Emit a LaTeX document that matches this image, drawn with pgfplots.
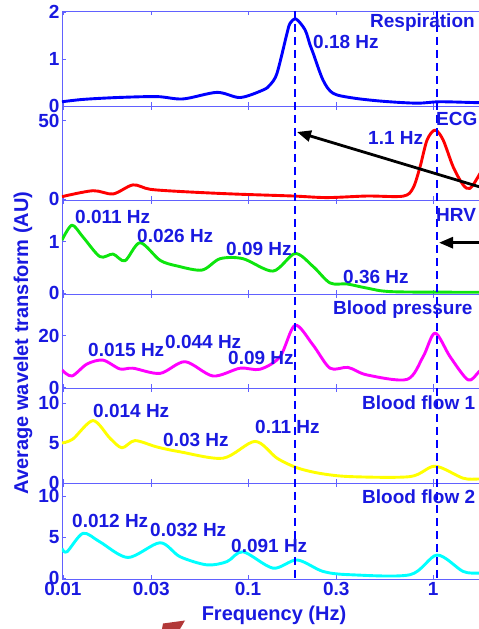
\documentclass[border=0pt]{standalone}
\usepackage{fontspec}
\setmainfont{Liberation Sans}
\usepackage{pgfplots}
\pgfplotsset{compat=1.18}
\usetikzlibrary{arrows.meta}
\definecolor{axcol}{rgb}{0.38,0.38,1}
\definecolor{txtcol}{rgb}{0.1,0.1,0.88}
\definecolor{resp}{rgb}{0,0,1}
\definecolor{ecg}{rgb}{1,0,0}
\definecolor{hrvg}{rgb}{0.05,0.9,0.05}
\definecolor{bpm}{rgb}{1,0,1}
\definecolor{bfy}{rgb}{1,1,0}
\definecolor{bfc}{rgb}{0,1,1}
\definecolor{redmark}{rgb}{0.7,0.22,0.22}
\newcommand{\lab}{\bfseries\fontsize{19}{19}\selectfont}
\pgfplotsset{/pgf/number format/assume math mode=true}
\pgfplotsset{
  mypanel/.style={
    scale only axis, width=428pt,
    axis line style={color=axcol, line width=0.9pt},
    tick style={color=axcol, line width=0.9pt},
    major tick length=4pt, tick align=inside,
    xtick={0.01,0.03,0.1,0.3,1}, xticklabels={},
    ytick pos=left,
    yticklabel style={text=txtcol, font=\lab, xshift=1pt},
    xticklabel style={text=txtcol, font=\lab},
  },
  mycurve/.style={line width=2.9pt, smooth, line join=round},
}
\begin{document}
\begin{tikzpicture}
\useasboundingbox (0pt,0pt) rectangle (479pt,629pt);
\clip (0pt,0pt) rectangle (479pt,629pt);
% Respiration
\begin{axis}[xmode=log, xmin=0.00988, xmax=2.03, mypanel, anchor=south west, at={(62pt,523pt)}, height=95pt, ymin=0, ymax=2.021, ytick={0,1,2}]
\addplot[mycurve, color=resp] coordinates {(0.00988,0.09)(0.01283,0.14)(0.01958,0.18)(0.03223,0.20)(0.04453,0.15)(0.068,0.29)(0.09054,0.18)(0.1205,0.34)(0.1315,0.45)(0.1435,0.70)(0.1625,1.55)(0.1687,1.76)(0.1818,1.85)(0.2033,1.62)(0.2163,1.30)(0.2246,1.13)(0.2543,0.55)(0.2881,0.27)(0.3695,0.17)(0.5367,0.10)(0.8193,0.06)(1.091,0.09)(1.773,0.07)(2.03,0.07)};
\end{axis}
% ECG
\begin{axis}[xmode=log, xmin=0.00988, xmax=2.03, mypanel, anchor=south west, at={(62pt,429pt)}, height=94pt, ymin=-0.64, ymax=59.39, ytick={0,50}]
\addplot[mycurve, color=ecg] coordinates {(0.00988,1.5)(0.01453,5.3)(0.01864,3.2)(0.02389,9.0)(0.02953,6.2)(0.04453,4.7)(0.08298,3.2)(0.1751,1.9)(0.2673,0.9)(0.4398,1.9)(0.6883,1.8)(0.7795,7)(0.8506,20.6)(0.928,37.7)(1.025,44)(1.133,37.7)(1.283,20.6)(1.453,9)(1.585,6.8)(1.773,15.3)(2.03,28)};
\end{axis}
% HRV
\begin{axis}[xmode=log, xmin=0.00988, xmax=2.03, mypanel, anchor=south west, at={(62pt,335pt)}, height=94pt, ymin=-0.014, ymax=1.808, ytick={0,1}]
\addplot[mycurve, color=hrvg] coordinates {(0.00988,1.03)(0.01118,1.32)(0.01283,1.09)(0.01585,0.71)(0.01864,0.76)(0.02163,0.63)(0.02608,0.98)(0.03345,0.64)(0.04132,0.53)(0.05642,0.45)(0.0706,0.67)(0.09397,0.67)(0.1365,0.43)(0.1795,0.77)(0.2246,0.52)(0.2775,0.20)(0.3428,0.18)(0.4398,0.10)(0.6078,0.03)(1.773,0.02)(2.03,0.02)};
\end{axis}
% Blood pressure
\begin{axis}[xmode=log, xmin=0.00988, xmax=2.03, mypanel, anchor=south west, at={(62pt,241pt)}, height=94pt, ymin=-0.115, ymax=36.04, ytick={0,20}]
\addplot[mycurve, color=bpm] coordinates {(0.00988,6.8)(0.01118,4.5)(0.01348,9.1)(0.01645,10.6)(0.02033,7.2)(0.02389,7.5)(0.03345,5.5)(0.04565,10.0)(0.0647,4.5)(0.09054,7.5)(0.1161,7.1)(0.1489,11.9)(0.1795,24)(0.2246,16.4)(0.2775,7.5)(0.3471,7.8)(0.4398,4.9)(0.7235,3.2)(0.883,11.9)(1.025,21)(1.236,11.9)(1.546,3.0)(1.773,6.2)(2.03,10)};
\end{axis}
% Blood flow 1
\begin{axis}[xmode=log, xmin=0.00988, xmax=2.03, mypanel, anchor=south west, at={(62pt,146pt)}, height=95pt, ymin=0, ymax=11.875, ytick={0,5,10}]
\addplot[mycurve, color=bfy] coordinates {(0.00988,5.0)(0.01132,5.5)(0.01453,7.8)(0.01795,5.6)(0.02084,4.4)(0.0245,5.3)(0.03223,4.5)(0.04289,3.9)(0.07329,3.1)(0.1091,5.2)(0.1435,3.1)(0.1841,1.9)(0.245,1.2)(0.3559,0.8)(0.7509,0.8)(1.025,2.1)(1.453,0.6)(1.773,0.5)(2.03,0.5)};
\end{axis}
% Blood flow 2
\begin{axis}[xmode=log, xmin=0.00988, xmax=2.03, mypanel, anchor=south west, at={(62pt,50pt)}, height=96pt, ymin=-0.122, ymax=11.59, ytick={0,5,10},
  xticklabels={0.01,0.03,0.1,0.3,1}]
\addplot[mycurve, color=bfc] coordinates {(0.00988,3.6)(0.01051,3.2)(0.01283,5.45)(0.01585,4.4)(0.02246,2.5)(0.03345,4.3)(0.04289,2.6)(0.06002,1.6)(0.07702,2.0)(0.09397,3.2)(0.1365,1.2)(0.1841,2.2)(0.2543,0.8)(0.3559,0.4)(0.7509,0.4)(1.051,2.8)(1.453,0.8)(1.773,0.6)(2.03,0.6)};
\end{axis}
\begin{scope}[x=1pt,y=1pt]
% dashed reference lines
\draw[resp, line width=1.6pt, dash pattern=on 8pt off 5pt] (295.2,618) -- (295.2,50);
\draw[resp, line width=1.6pt, dash pattern=on 8pt off 5pt] (436.9,618) -- (436.9,50);
% annotations
\begin{scope}[every node/.style={text=txtcol, font=\lab, anchor=west, inner sep=0pt}]
\node at (370,606) {Respiration};
\node at (313,587) {0.18 Hz};
\node at (436,510) {ECG};
\node at (368,491) {1.1 Hz};
\node at (436,414) {HRV};
\node at (75,412) {0.011 Hz};
\node at (137,393) {0.026 Hz};
\node at (226,380) {0.09 Hz};
\node at (343,352) {0.36 Hz};
\node at (333,319) {Blood pressure};
\node at (88,279) {0.015 Hz};
\node at (165,287) {0.044 Hz};
\node at (228,271) {0.09 Hz};
\node at (362,226) {Blood flow 1};
\node at (93,218) {0.014 Hz};
\node at (163,189) {0.03 Hz};
\node at (255,202) {0.11 Hz};
\node at (362,132) {Blood flow 2};
\node at (72,108) {0.012 Hz};
\node at (150,99) {0.032 Hz};
\node at (231,83) {0.091 Hz};
\end{scope}
\node[text=txtcol, font=\bfseries\fontsize{20}{20}\selectfont, rotate=90] at (23,286) {Average wavelet transform (AU)};
\node[text=txtcol, font=\bfseries\fontsize{20}{20}\selectfont] at (274,14) {Frequency (Hz)};
% black arrows
\draw[black, line width=2.8pt, -{Triangle[length=14pt,width=11pt]}] (500,436) -- (297,497);
\draw[black, line width=2.8pt, -{Triangle[length=14pt,width=11pt]}] (500,386.3) -- (439,386.3);
% red mark fragment
\fill[redmark] (162,0) -- (163,5.5) -- (185,8.5) -- (180,0) -- cycle;
\end{scope}
\end{tikzpicture}
\end{document}
